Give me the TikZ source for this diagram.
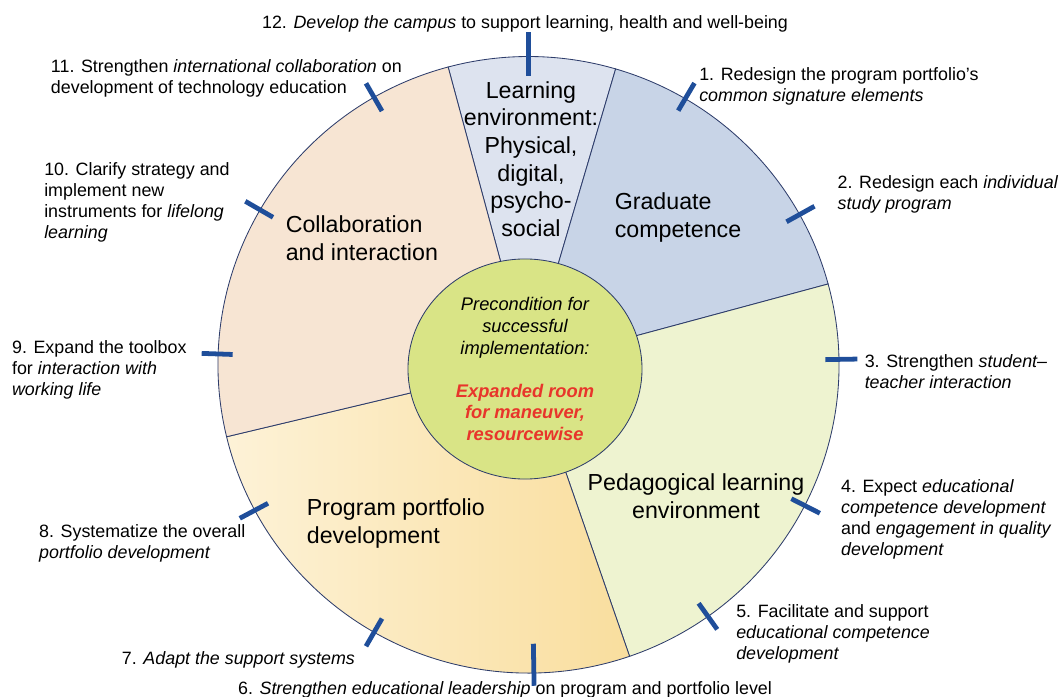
\documentclass[tikz,border=0pt]{standalone}
\usepackage{fontspec}
\setmainfont{Liberation Sans}
\usetikzlibrary{shapes.geometric}

\definecolor{lenvfill}{HTML}{DDE3EF}
\definecolor{gradfill}{HTML}{C8D4E7}
\definecolor{pedafill}{HTML}{EEF3D0}
\definecolor{progleft}{HTML}{FDF2D7}
\definecolor{progright}{HTML}{F9DE9E}
\definecolor{collfill}{HTML}{F7E5D3}
\definecolor{corefill}{HTML}{D9E486}
\definecolor{rimline}{HTML}{2E3D6B}
\definecolor{notchblue}{HTML}{1F4E9A}
\definecolor{keyred}{HTML}{E8352B}

\newcommand{\keytext}[1]{\textcolor{keyred}{\bfseries #1}}

\begin{document}
\begin{tikzpicture}[
    x=0.025cm,
    y=0.025cm,
    sector/.style={
        draw=rimline,
        line width=0.6pt
    },
    rim/.style={
        x radius=310.5,
        y radius=308.3
    },
    areatext/.style={
        inner sep=0pt,
        align=left,
        font=\fontsize{16.5}{19.6}\selectfont
    },
    itemtext/.style={
        anchor=west,
        inner sep=0pt,
        align=left,
        font=\fontsize{12.7}{14.9}\selectfont
    },
    notch/.style={
        draw=notchblue,
        line width=3.4pt
    },
    hub/.style={
        ellipse,
        draw=rimline,
        line width=0.6pt,
        fill=corefill,
        minimum width=5.85cm,
        minimum height=5.5cm,
        inner sep=0pt,
        align=center,
        font=\fontsize{13}{15.6}\selectfont\itshape
    }
]
\useasboundingbox (-528.5,-332.2) rectangle (530.5,364.8);

% Sectors
\path[sector, fill=lenvfill] (0,0) -- (73.7:310.5 and 308.3) arc[rim, start angle=73.7, end angle=105] -- cycle;
\path[sector, fill=gradfill] (0,0) -- (15.2:310.5 and 308.3) arc[rim, start angle=15.2, end angle=73.7] -- cycle;
\path[sector, fill=pedafill] (0,0) -- (-71:310.5 and 308.3) arc[rim, start angle=-71, end angle=15.2] -- cycle;
\path[sector, left color=progleft, right color=progright] (0,0) -- (193.5:310.5 and 308.3) arc[rim, start angle=193.5, end angle=289] -- cycle;
\path[sector, fill=collfill] (0,0) -- (105:310.5 and 308.3) arc[rim, start angle=105, end angle=193.5] -- cycle;

% Centre
\node[hub] (core) at (-3.5,-4.2) {Precondition for\\successful\\implementation:\\[15pt]\keytext{Expanded room}\\\keytext{for maneuver,}\\\keytext{resourcewise}};

% Sector labels
\node[areatext, align=center] (lenv) at (2.5,205.8) {Learning\\environment:\\Physical,\\digital,\\psycho-\\social};
\node[areatext, anchor=west] (grad) at (86,147.3) {Graduate\\competence};
\node[areatext, anchor=west] (coll) at (-243,126.8) {Collaboration\\and interaction};
\node[areatext, align=center] (peda) at (167.5,-131.5) {Pedagogical learning\\environment};
\node[areatext, anchor=west] (prog) at (-221.9,-158.5) {Program portfolio\\development};

% Notches on the rim
\draw[notch] (90:288.8) -- (90:332.8);
\draw[notch] (59.5:295) -- (59.5:327);
\draw[notch] (29:295) -- (29:327);
\draw[notch] (1:297) -- (1:329);
\draw[notch] (-27:295) -- (-27:327);
\draw[notch] (-54.5:293) -- (-54.5:325);
\draw[notch] (-89:279) -- (-89:321);
\draw[notch] (-120:293) -- (-120:325);
\draw[notch] (-152:295) -- (-152:327);
\draw[notch] (178:296) -- (178:327);
\draw[notch] (150:295) -- (150:327);
\draw[notch] (120:293) -- (120:325);

% Actions
\node[itemtext] (act1) at (170.5,278.8) {1. Redesign the program portfolio's\\\textit{common signature elements}};
\node[itemtext] (act2) at (308.9,170.8) {2. Redesign each \textit{individual}\\\textit{study program}};
\node[itemtext] (act3) at (336,-7.2) {3. Strengthen \textit{student--}\\\textit{teacher interaction}};
\node[itemtext] (act4) at (312.3,-154.2) {4. Expect \textit{educational}\\\textit{competence development}\\and \textit{engagement in quality}\\\textit{development}};
\node[itemtext] (act5) at (207.5,-268.9) {5. Facilitate and support\\\textit{educational competence}\\\textit{development}};
\node[itemtext, anchor=center] (act6) at (-23.5,-325.2) {6. \textit{Strengthen educational leadership} on program and portfolio level};
\node[itemtext] (act7) at (-406.8,-294.7) {7. \textit{Adapt the support systems}};
\node[itemtext] (act8) at (-489.6,-178.2) {8. Systematize the overall\\\textit{portfolio development}};
\node[itemtext] (act9) at (-516.7,-5.2) {9. Expand the toolbox\\for \textit{interaction with}\\\textit{working life}};
\node[itemtext] (act10) at (-484.5,162.1) {10. Clarify strategy and\\implement new\\instruments for \textit{lifelong}\\\textit{learning}};
\node[itemtext] (act11) at (-477.8,286.8) {11. Strengthen \textit{international collaboration} on\\development of technology education};
\node[itemtext, anchor=center] (act12) at (-3.5,341.2) {12. \textit{Develop the campus} to support learning, health and well-being};

\end{tikzpicture}
\end{document}
